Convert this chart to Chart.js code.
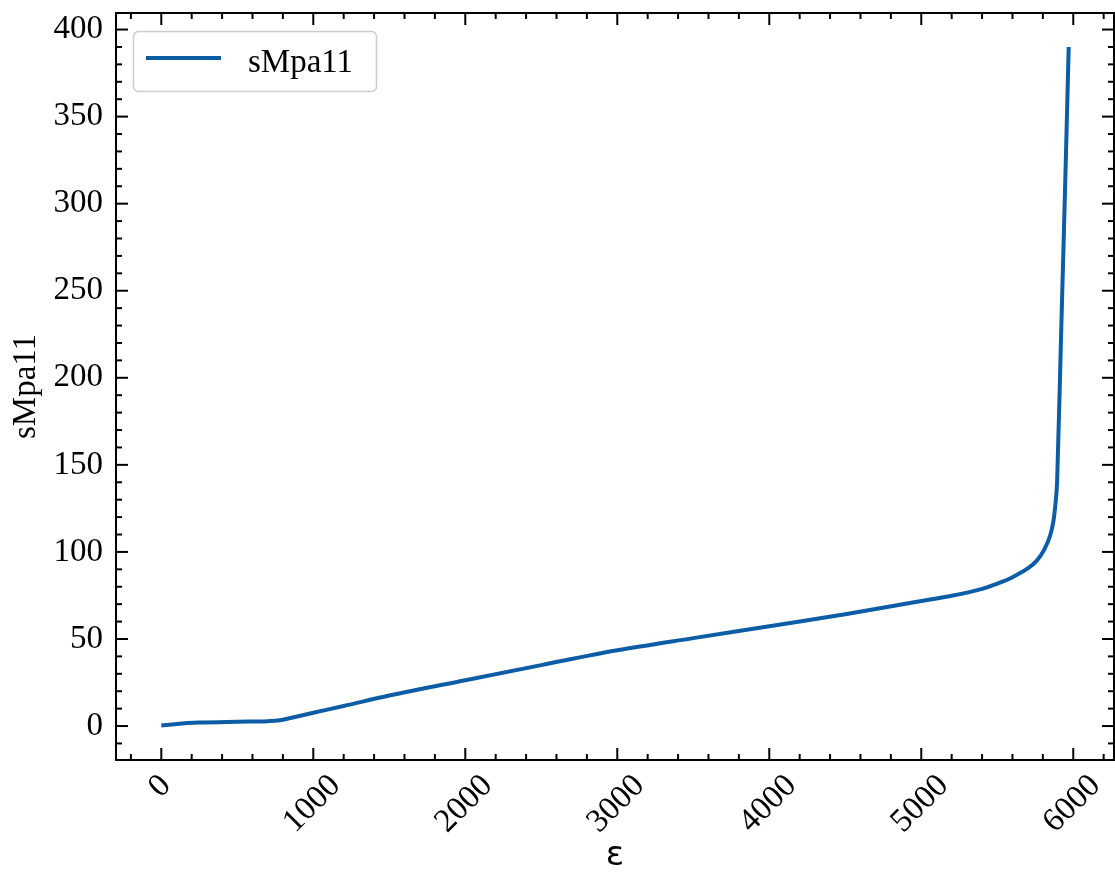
<!DOCTYPE html>
<html>
<head>
<meta charset="utf-8">
<script src="https://cdn.jsdelivr.net/npm/chart.js@4.4.1/dist/chart.umd.min.js"></script>
<style>
  html, body { margin: 0; padding: 0; background: #fff; }
  #wrap { width: 1115px; height: 877px; }
</style>
</head>
<body>
<div id="wrap"><canvas id="c" width="1115" height="877"></canvas></div>
<script>
// strain (x) and stress sMpa11 (y)
const strain = [0, 100, 250, 500, 700, 780, 850, 1000, 1200, 1500, 2000, 2500, 3000, 3500, 4000, 4500,
  5000, 5200, 5400, 5500, 5600, 5700, 5760, 5810, 5850, 5870, 5881, 5894, 5920, 5945, 5970];
const sMpa11 = [0.3, 1.2, 2.0, 2.5, 2.8, 3.3, 4.6, 7.6, 11.5, 17.5, 26.3, 35, 43.5, 50.5, 57.3, 64.2,
  71.8, 74.8, 78.8, 81.8, 85.5, 90.5, 95, 101.5, 110, 118, 126, 141, 225, 305, 390];

const xTicks = [0, 1000, 2000, 3000, 4000, 5000, 6000];
const yTicks = [0, 50, 100, 150, 200, 250, 300, 350, 400];
const xMinorStep = 200;
const yMinorStep = 10;

const serif = 'Liberation Serif';
const lineColor = '#0C5DA5';

const points = strain.map((x, i) => ({ x: x, y: sMpa11[i] }));

// inward major/minor ticks on all four sides + spines
const frame = {
  id: 'frame',
  afterDraw(chart) {
    const { ctx, chartArea: a, scales: { x, y } } = chart;
    ctx.save();
    ctx.strokeStyle = '#000';
    ctx.lineWidth = 2;
    const tick = (x1, y1, x2, y2) => { ctx.beginPath(); ctx.moveTo(x1, y1); ctx.lineTo(x2, y2); ctx.stroke(); };

    for (let v = Math.ceil(x.min / xMinorStep) * xMinorStep; v <= x.max; v += xMinorStep) {
      const px = x.getPixelForValue(v);
      const len = v % 1000 === 0 ? 12 : 6;
      tick(px, a.bottom, px, a.bottom - len);
      tick(px, a.top, px, a.top + len);
    }
    for (let v = Math.ceil(y.min / yMinorStep) * yMinorStep; v <= y.max; v += yMinorStep) {
      const py = y.getPixelForValue(v);
      const len = v % 50 === 0 ? 12 : 6;
      tick(a.left, py, a.left + len, py);
      tick(a.right, py, a.right - len, py);
    }
    ctx.strokeRect(a.left, a.top, a.right - a.left, a.bottom - a.top);

    // rotated x tick labels, centred on the tick like matplotlib
    ctx.fillStyle = '#000';
    ctx.font = '33px "' + serif + '"';
    ctx.textAlign = 'center';
    ctx.textBaseline = 'middle';
    xTicks.forEach(v => {
      const t = String(v);
      const w = ctx.measureText(t).width;
      const half = (w + 33) / (2 * Math.SQRT2);
      const cx = x.getPixelForValue(v) - 1;
      const cy = a.bottom + 9 + half;
      ctx.save();
      ctx.translate(cx, cy);
      ctx.rotate(-Math.PI / 4);
      ctx.fillText(t, 0, 0);
      ctx.restore();
    });

    // legend box
    const ds = chart.data.datasets[0];
    ctx.beginPath();
    ctx.roundRect(133.5, 31.5, 243, 60, 5);
    ctx.fillStyle = 'rgba(255,255,255,0.8)';
    ctx.fill();
    ctx.strokeStyle = '#cccccc';
    ctx.lineWidth = 1.5;
    ctx.stroke();
    ctx.strokeStyle = ds.borderColor;
    ctx.lineWidth = 4;
    tick(146, 58, 221, 58);
    ctx.fillStyle = '#000';
    ctx.textAlign = 'left';
    ctx.textBaseline = 'alphabetic';
    ctx.fillText(ds.label, 248, 72);
    ctx.restore();
  }
};

new Chart(document.getElementById('c'), {
  type: 'line',
  data: {
    datasets: [{
      label: 'sMpa11',
      data: points,
      borderColor: lineColor,
      borderWidth: 4,
      pointRadius: 0,
      fill: false,
      cubicInterpolationMode: 'monotone'
    }]
  },
  options: {
    responsive: false,
    animation: false,
    layout: { padding: { top: 13, right: 1, left: 0, bottom: 0 } },
    plugins: { legend: { display: false }, tooltip: { enabled: false } },
    scales: {
      x: {
        type: 'linear',
        min: -298,
        max: 6268,
        afterBuildTicks: s => { s.ticks = xTicks.map(v => ({ value: v })); },
        afterFit: s => { s.height = 117; s.paddingLeft = 0; s.paddingRight = 0; },
        grid: { display: false, drawTicks: false },
        border: { display: false },
        ticks: { display: false },
        title: {
          display: true, text: 'ε', color: '#000',
          font: { family: 'DejaVu Sans', size: 34 },
          padding: { top: 0, bottom: 0 }
        }
      },
      y: {
        type: 'linear',
        min: -19.5,
        max: 409.5,
        afterBuildTicks: s => { s.ticks = yTicks.map(v => ({ value: v })); },
        afterFit: s => { s.width = 116; s.paddingTop = 0; s.paddingBottom = 0; },
        grid: { display: false, drawTicks: false },
        border: { display: false },
        ticks: { color: '#000', padding: 13, font: { family: serif, size: 33 } },
        title: {
          display: true, text: 'sMpa11', color: '#000',
          font: { family: serif, size: 33 },
          padding: { top: 7, bottom: 0 }
        }
      }
    }
  },
  plugins: [frame]
});
</script>
</body>
</html>
